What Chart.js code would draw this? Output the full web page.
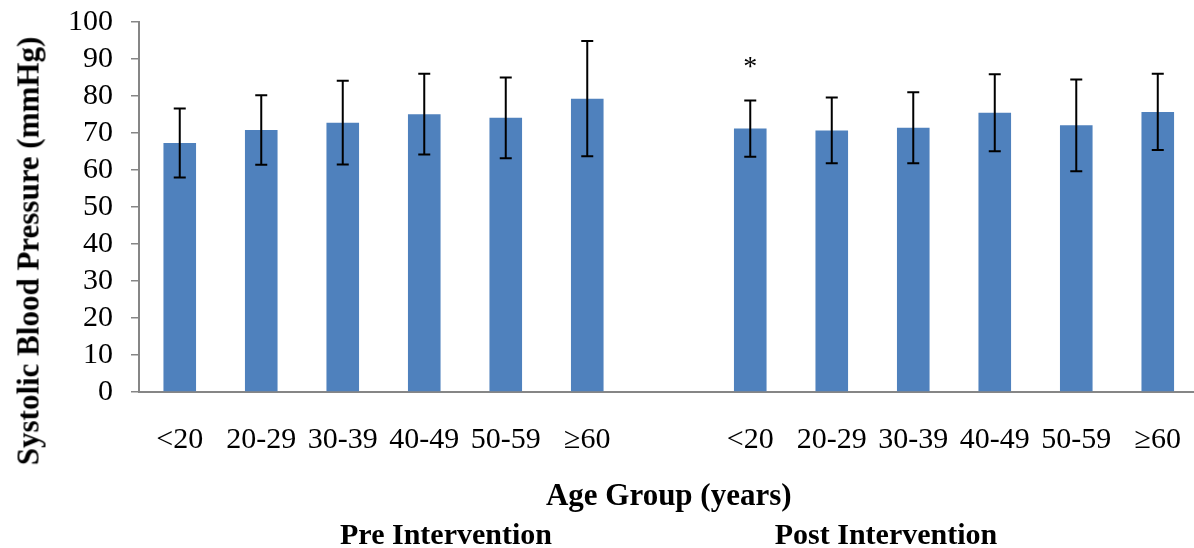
<!DOCTYPE html>
<html>
<head>
<meta charset="utf-8">
<script src="https://cdn.jsdelivr.net/npm/chart.js@4"></script>
<style>
  html, body { margin: 0; padding: 0; background: #fff; overflow: hidden; }
  #wrap { position: relative; width: 1194px; height: 548px; overflow: hidden; }
  .lbl { position: absolute; font-family: "Liberation Serif", "Times New Roman", serif; font-weight: bold;
         color: #000; white-space: nowrap; line-height: 1; transform: translate(-50%, -50%); }
</style>
</head>
<body>
<div id="wrap">
  <canvas id="bp_chart" width="1211" height="548"></canvas>
  <div class="lbl" style="left:28px; top:251px; font-size:31px; transform: translate(-50%, -50%) rotate(-90deg);">Systolic Blood Pressure (mmHg)</div>
  <div class="lbl" style="left:446px; top:534px; font-size:30px;">Pre Intervention</div>
  <div class="lbl" style="left:886px; top:534px; font-size:30px;">Post Intervention</div>
</div>
<script>
// grupos de edad (se repiten para pre y post)
const ageGroups = ["<20", "20-29", "30-39", "40-49", "50-59", "≥60"];

// media y desviacion estandar, mmHg
const preMean = [67.3, 70.8, 72.8, 75.1, 74.1, 79.3];
const preSD = [9.3, 9.4, 11.3, 10.9, 10.9, 15.6];
const postMean = [71.2, 70.7, 71.4, 75.5, 72.1, 75.7];
const postSD = [7.6, 8.9, 9.6, 10.4, 12.4, 10.3];
const postMarks = ["*", "", "", "", "", ""];

// una categoria vacia entre los dos grupos
const labels = ageGroups.concat([""], ageGroups);
const values = preMean.concat([null], postMean);
const errors = preSD.concat([null], postSD);
const marks = ageGroups.map(function () { return ""; }).concat([""], postMarks);

const serif = "'Liberation Serif', 'Times New Roman', serif";
const axisGray = "#868686";

// barras de error y asterisco
const errorBars = {
    id: "errorBars",
    afterDatasetsDraw: function (chart) {
        const ctx = chart.ctx;
        const y = chart.scales.y;
        const meta = chart.getDatasetMeta(0);
        ctx.save();
        ctx.strokeStyle = "#000";
        ctx.lineWidth = 2;
        values.forEach(function (v, i) {
            if (v === null) return;
            const x = meta.data[i].x;
            const top = y.getPixelForValue(v + errors[i]);
            const bottom = y.getPixelForValue(v - errors[i]);
            ctx.beginPath();
            ctx.moveTo(x, top);
            ctx.lineTo(x, bottom);
            ctx.moveTo(x - 6, top);
            ctx.lineTo(x + 6, top);
            ctx.moveTo(x - 6, bottom);
            ctx.lineTo(x + 6, bottom);
            ctx.stroke();
            if (marks[i]) {
                ctx.fillStyle = "#000";
                ctx.font = "28px " + serif;
                ctx.textAlign = "center";
                ctx.textBaseline = "alphabetic";
                ctx.fillText(marks[i], x, top - 25);
            }
        });
        ctx.restore();
    }
};

function GraficaPresion(ctx) {
    const chart = new Chart(ctx, {
        type: "bar",
        data: {
            labels: labels,
            datasets: [
                {
                    label: "Systolic Blood Pressure",
                    backgroundColor: "#4F81BD",
                    data: values,
                    barPercentage: 0.4,
                    categoryPercentage: 1.0
                }
            ]
        },
        options: {
            responsive: false,
            animation: false,
            devicePixelRatio: 1,
            layout: { padding: { top: 17, right: 0, bottom: 0, left: 0 } },
            plugins: {
                legend: { display: false },
                tooltip: { enabled: false }
            },
            scales: {
                x: {
                    grid: { display: false, drawTicks: false },
                    border: { display: true, color: axisGray, width: 2 },
                    ticks: {
                        autoSkip: false,
                        maxRotation: 0,
                        padding: 30,
                        color: "#000",
                        font: { family: serif, size: 30 }
                    },
                    title: {
                        display: true,
                        text: "Age Group (years)",
                        color: "#000",
                        font: { family: serif, size: 31, weight: "bold" },
                        padding: { top: 0, bottom: 32 }
                    },
                    afterFit: function (scale) { scale.height = 156; }
                },
                y: {
                    min: 0,
                    max: 100,
                    grid: { display: true, drawOnChartArea: false, drawTicks: true, tickLength: 8, color: axisGray, lineWidth: 1.5 },
                    border: { display: true, color: axisGray, width: 2 },
                    ticks: {
                        stepSize: 10,
                        autoSkip: false,
                        padding: 18,
                        color: "#000",
                        font: { family: serif, size: 30, lineHeight: 0.27 }
                    },
                    afterFit: function (scale) { scale.width = 139; }
                }
            }
        },
        plugins: [errorBars]
    });
    return chart;
}

GraficaPresion(document.getElementById("bp_chart").getContext("2d"));
</script>
</body>
</html>
